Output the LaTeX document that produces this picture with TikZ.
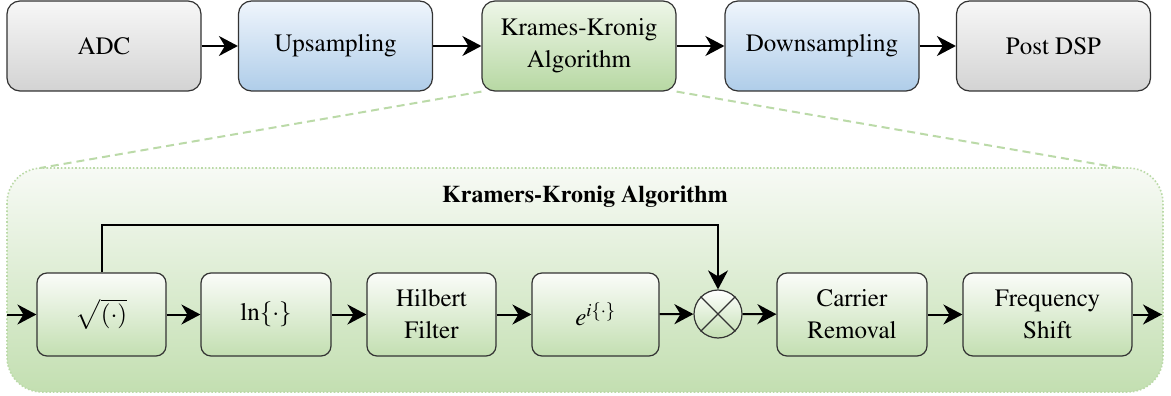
\documentclass[tikz,border=0pt]{standalone}
\usepackage[T1]{fontenc}
\usepackage{mathptmx}
\usetikzlibrary{arrows.meta}

\definecolor{edge}{HTML}{333333}
\definecolor{grayTop}{HTML}{F7F7F7}
\definecolor{grayBot}{HTML}{D3D3D3}
\definecolor{blueTop}{HTML}{EFF5FC}
\definecolor{blueBot}{HTML}{AFCDE9}
\definecolor{greenTop}{HTML}{EEF6E8}
\definecolor{greenBot}{HTML}{B7D8A3}
\definecolor{panelTop}{HTML}{F7FAF5}
\definecolor{panelBot}{HTML}{C3DFB1}
\definecolor{panelLine}{HTML}{BBDAA8}

\tikzset{
  every node/.style={font=\rmfamily\fontsize{25}{32}\selectfont, text=black, align=center},
  topbox/.style={draw=edge, line width=1.2pt, rounded corners=13pt,
    minimum width=194pt, minimum height=90pt, inner sep=0pt},
  graybox/.style={topbox, top color=grayTop, bottom color=grayBot},
  bluebox/.style={topbox, top color=blueTop, bottom color=blueBot},
  greenbox/.style={topbox, top color=greenTop, bottom color=greenBot},
  stage/.style={draw=edge, line width=1.2pt, rounded corners=10pt,
    minimum height=83pt, inner sep=0pt, top color=panelTop!60!white, bottom color=panelBot},
  flow/.style={line width=2pt, -{Stealth[length=19pt, width=20pt, inset=6pt]}},
  zoomline/.style={draw=panelLine, line width=2pt, dash pattern=on 8pt off 5pt},
}

\begin{document}
\begin{tikzpicture}[x=1pt, y=-1pt]
\useasboundingbox (0,0) rectangle (1171,396);

% outer processing chain
\node[graybox]  (adc)  at (104,46)    {ADC};
\node[bluebox]  (up)   at (335.5,46)  {Upsampling};
\node[greenbox] (kk)   at (579,46)    {Krames-Kronig\\Algorithm};
\node[bluebox]  (down) at (822,46)    {Downsampling};
\node[graybox]  (post) at (1053.5,46) {Post DSP};

\draw[flow] (adc) -- (up);
\draw[flow] (up) -- (kk);
\draw[flow] (kk) -- (down);
\draw[flow] (down) -- (post);

% expanded view of the KK block
\node[draw=panelLine, line width=1.6pt, dotted, rounded corners=35pt,
      top color=panelTop, bottom color=panelBot,
      minimum width=1156pt, minimum height=224pt, inner sep=0pt] (panel) at (585,280) {};
\coordinate (zl) at (40,168);
\coordinate (zr) at (1120,168);
\draw[zoomline] (kk.south west) -- (zl);
\draw[zoomline] (kk.south east) -- (zr);

\node[font=\rmfamily\fontsize{24}{28}\selectfont\bfseries] (title) at (585,197) {Kramers-Kronig Algorithm};

\node[stage, minimum width=129pt] (sq)   at (101.5,314.5) {$\sqrt{(\cdot)}$};
\node[stage, minimum width=130pt] (ln)   at (266,314.5)   {$\ln\{\cdot\}$};
\node[stage, minimum width=129pt] (hil)  at (431.5,314.5) {Hilbert\\Filter};
\node[stage, minimum width=127pt] (ex)   at (595.5,314.5) {$e^{i\{\cdot\}}$};
\node[circle, draw=edge, line width=1.2pt, minimum size=48pt, inner sep=0pt,
      top color=white, bottom color=panelBot] (mul) at (718,314) {};
\draw[edge, line width=1.2pt] (mul.north west) -- (mul.south east)
                              (mul.north east) -- (mul.south west);
\node[stage, minimum width=150pt] (car)  at (852,314.5)   {Carrier\\Removal};
\node[stage, minimum width=169pt] (freq) at (1047.5,314.5) {Frequency\\Shift};

\coordinate (in)  at (7,314.5);
\coordinate (out) at (1162,314.5);
\coordinate (tap) at (101.5,225);

\draw[flow] (in) -- (sq);
\draw[flow] (sq) -- (ln);
\draw[flow] (ln) -- (hil);
\draw[flow] (hil) -- (ex);
\draw[flow] (ex) -- (mul);
\draw[flow] (mul) -- (car);
\draw[flow] (car) -- (freq);
\draw[flow] (freq) -- (out);
\draw[flow] (sq.north) -- (tap) -| (mul.north);
\end{tikzpicture}
\end{document}
